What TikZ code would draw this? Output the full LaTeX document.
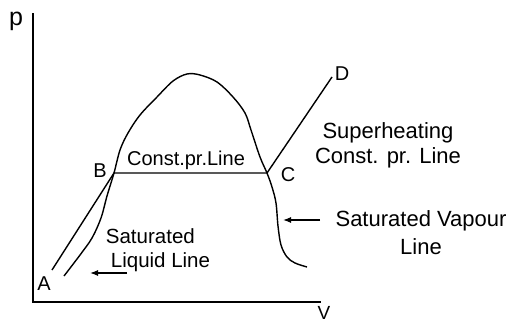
\documentclass[tikz,border=0pt]{standalone}
\usepackage{fontspec}
\setmainfont{Liberation Sans}
\usetikzlibrary{arrows.meta}

\begin{document}
\begin{tikzpicture}[x=1pt,y=-1pt,
    axis/.style={line width=2pt},
    curve/.style={line width=1.4pt},
    arr/.style={line width=1.2pt,-{Latex[length=8pt,width=6pt]}},
    lbl/.style={font=\fontsize{22}{26.5}\selectfont,inner sep=0pt,align=center,anchor=base},
    ptlbl/.style={font=\fontsize{20}{24}\selectfont,inner sep=0pt}]
\useasboundingbox (0,0) rectangle (509,324);
% axes
\coordinate (O) at (33,302);
\coordinate (ytop) at (33,13);
\coordinate (xend) at (321,302);
\draw[axis] (ytop) -- (O) -- (xend);
\node[ptlbl,font=\fontsize{25}{28}\selectfont] (p) at (16,21) {p};
\node[ptlbl,font=\fontsize{19}{22}\selectfont] (v) at (324,313) {V};
% state points
\coordinate (A) at (52,270);
\coordinate (B) at (114,173);
\coordinate (C) at (267,173);
\coordinate (D) at (332,77);
\node[ptlbl] (labA) at (44,284) {A};
\node[ptlbl] (labB) at (100,171) {B};
\node[ptlbl] (labC) at (288,175) {C};
\node[ptlbl] (labD) at (342,74) {D};
% saturation dome
\draw[curve] plot[smooth,tension=0.55] coordinates {(64,276) (80,255) (92,238) (101,218) (107,196) (B)
    (120,150) (128,133) (140,115) (157,97) (173,81) (187,74) (200,75) (217,82) (233,97) (245,113)
    (251,130) (260,157) (C) (272,187) (276,203) (278,226) (281,245) (287,257) (295,263) (307,267)};
% process lines
\draw[curve] (A) -- (B) -- (C) -- (D);
% labels
\node[lbl,font=\fontsize{20}{24}\selectfont] (constpr) at (186,165) {Const.pr.Line};
\node[lbl,font=\fontsize{22}{25}\selectfont] (superheat) at (388,163) {Superheating\\Const. pr. Line};
\node[lbl,font=\fontsize{22}{28}\selectfont] (satvap) at (421,254) {Saturated Vapour\\Line};
\node[lbl,font=\fontsize{20.5}{24}\selectfont,align=left] (satliq) at (158,267) {Saturated\\\hspace*{5pt}Liquid Line};
% arrows
\coordinate (vtail) at (320,220);
\coordinate (vtip) at (283,220);
\coordinate (ltail) at (127,273);
\coordinate (ltip) at (90,273);
\draw[arr] (vtail) -- (vtip);
\draw[arr] (ltail) -- (ltip);
\end{tikzpicture}
\end{document}
